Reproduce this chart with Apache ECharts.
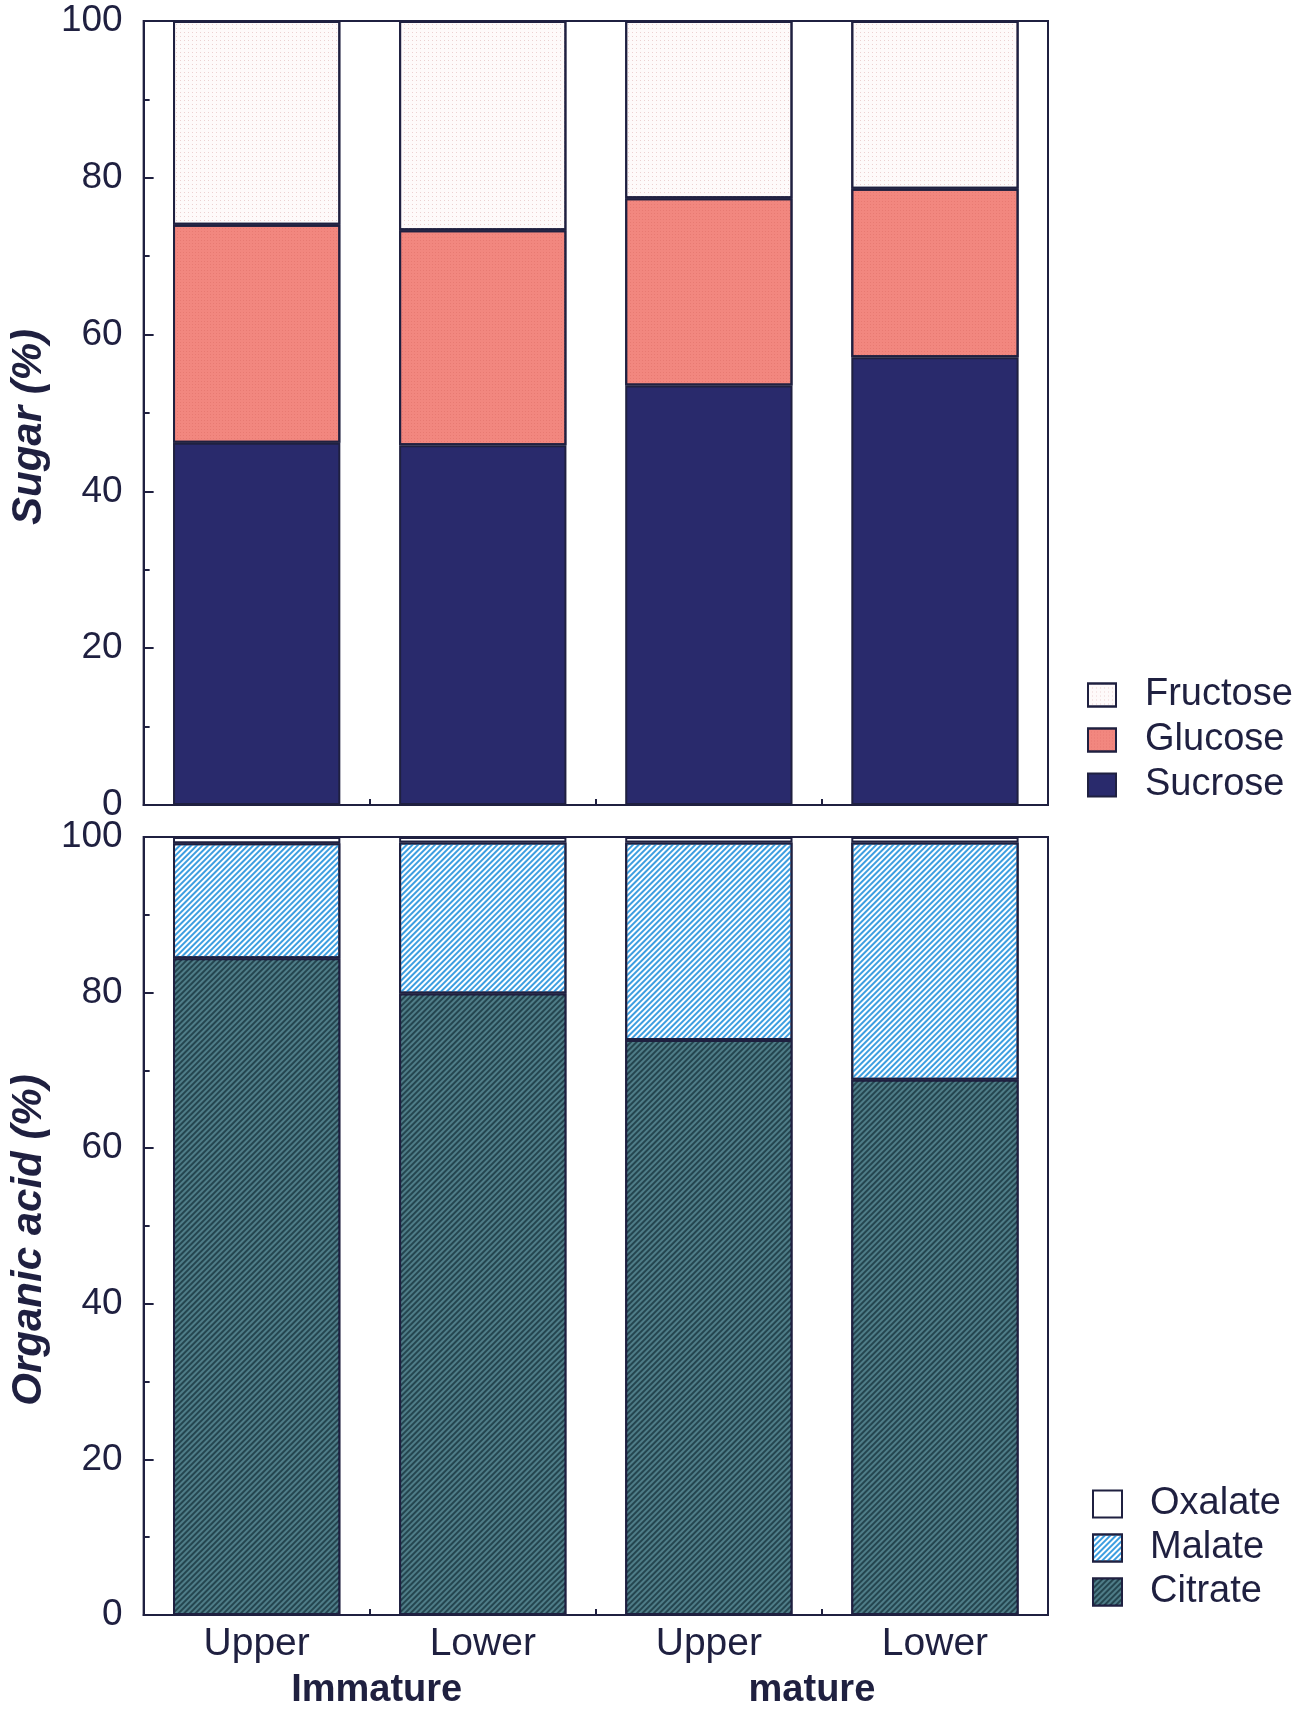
<!DOCTYPE html>
<html>
<head>
<meta charset="utf-8">
<script src="https://cdn.jsdelivr.net/npm/echarts@6/dist/echarts.min.js"></script>
<style>
  html, body { margin: 0; padding: 0; background: #ffffff; }
  #chart { width: 1314px; height: 1710px; }
</style>
</head>
<body>
<div id="chart"></div>
<script>
// Fruit position within the canopy and ripening stage
const positions = ['Upper', 'Lower', 'Upper', 'Lower'];
const stages = ['Immature', 'mature'];

// Sugar composition (% of total sugar)
const sucrose = [46.2, 45.9, 53.5, 57.1];
const glucose = [27.8, 27.4, 23.9, 21.5];
const fructose = [26.0, 26.7, 22.6, 21.4];

// Organic acid composition (% of total acid)
const citrate = [84.4, 79.9, 73.9, 68.8];
const malate = [14.8, 19.4, 25.4, 30.5];
const oxalate = [0.8, 0.7, 0.7, 0.7];

const ink = '#1f2040';
const font = '"Liberation Sans", Arial, Helvetica, sans-serif';
const edge = { borderColor: ink, borderWidth: 2 };

function valueAxis(gridIndex, name) {
  return {
    type: 'value', gridIndex, min: 0, max: 100, interval: 20,
    name, nameLocation: 'middle', nameGap: 88,
    nameTextStyle: { fontFamily: font, fontSize: 42, fontWeight: 'bold', fontStyle: 'italic', color: ink, padding: [0, 28, 0, 0] },
    axisLine: { show: true, lineStyle: { color: ink, width: 2 } },
    axisTick: { show: true, inside: true, length: 10, lineStyle: { color: ink, width: 2 } },
    minorTick: { show: true, splitNumber: 2, length: 6, lineStyle: { color: ink, width: 2 } },
    splitLine: { show: false },
    axisLabel: { fontFamily: font, fontSize: 37, color: ink, margin: 21 }
  };
}

function catAxis(gridIndex, showLabels) {
  return {
    type: 'category', gridIndex, data: positions,
    axisLine: { show: true, lineStyle: { color: ink, width: 2 } },
    axisTick: { show: true, inside: true, length: 6, lineStyle: { color: ink, width: 2 } },
    axisLabel: { show: showLabels, fontFamily: font, fontSize: 39, color: ink, margin: 10 },
    splitLine: { show: false }
  };
}

function bar(name, data, stack, axisIdx, color, decal) {
  return {
    name, type: 'bar', stack, data,
    xAxisIndex: axisIdx, yAxisIndex: axisIdx,
    barCategoryGap: '26%',
    itemStyle: Object.assign({ color, decal }, edge),
    emphasis: { disabled: true },
    animation: false
  };
}

const chart = echarts.init(document.getElementById('chart'), null, { renderer: 'canvas' });

chart.setOption({
  backgroundColor: '#ffffff',
  animation: false,
  grid: [
    { left: 143, width: 905, top: 21, height: 784, show: true, borderColor: ink, borderWidth: 2, backgroundColor: 'transparent' },
    { left: 143, width: 905, top: 837, height: 784, show: true, borderColor: ink, borderWidth: 2, backgroundColor: 'transparent' }
  ],
  xAxis: [
    catAxis(0, false),
    catAxis(1, true),
    {
      type: 'category', gridIndex: 1, position: 'bottom', offset: 49,
      data: [
        { value: stages[0], textStyle: { padding: [0, 0, 0, 14] } },
        { value: stages[1], textStyle: { padding: [0, 20, 0, 0] } }
      ],
      axisLine: { show: false }, axisTick: { show: false },
      axisLabel: { fontFamily: font, fontSize: 38, fontWeight: 'bold', color: ink, margin: 8 }
    }
  ],
  yAxis: [valueAxis(0, 'Sugar (%)'), valueAxis(1, 'Organic acid (%)')],
  legend: [
    {
      data: ['Fructose', 'Glucose', 'Sucrose'],
      orient: 'vertical', left: 1087, top: 676, itemGap: 7, padding: 0,
      itemWidth: 28, itemHeight: 23, icon: 'rect',
      itemStyle: { borderColor: ink, borderWidth: 2 },
      textStyle: { fontFamily: font, fontSize: 38, color: ink, padding: [0, 0, 0, 24] },
      selectedMode: false
    },
    {
      data: ['Oxalate', 'Malate', 'Citrate'],
      orient: 'vertical', left: 1092, top: 1485, itemGap: 6, padding: 0,
      itemWidth: 29, itemHeight: 27, icon: 'rect',
      itemStyle: { borderColor: ink, borderWidth: 2 },
      textStyle: { fontFamily: font, fontSize: 38, color: ink, padding: [0, 0, 0, 23] },
      selectedMode: false
    }
  ],
  series: [
    bar('Sucrose', sucrose, 'sugar', 0, '#292a6c', null),
    bar('Glucose', glucose, 'sugar', 0, '#f2877f',
      { symbol: 'rect', symbolSize: 1, dashArrayX: [1, 2], dashArrayY: [1, 2], color: 'rgba(214,96,92,0.35)' }),
    bar('Fructose', fructose, 'sugar', 0, '#fefafa',
      { symbol: 'rect', symbolSize: 1, dashArrayX: [1, 3], dashArrayY: [1, 3], color: 'rgba(214,160,160,0.45)' }),
    bar('Citrate', citrate, 'acid', 1, '#24454f',
      { symbol: 'rect', symbolSize: 1, dashArrayX: [1, 0], dashArrayY: [1.5, 2], rotation: -Math.PI / 4, color: '#4f7d88' }),
    bar('Malate', malate, 'acid', 1, '#ffffff',
      { symbol: 'rect', symbolSize: 1, dashArrayX: [1, 0], dashArrayY: [2, 2], rotation: -Math.PI / 4, color: '#3d9ee0' }),
    bar('Oxalate', oxalate, 'acid', 1, '#ffffff', null)
  ]
});
</script>
</body>
</html>
